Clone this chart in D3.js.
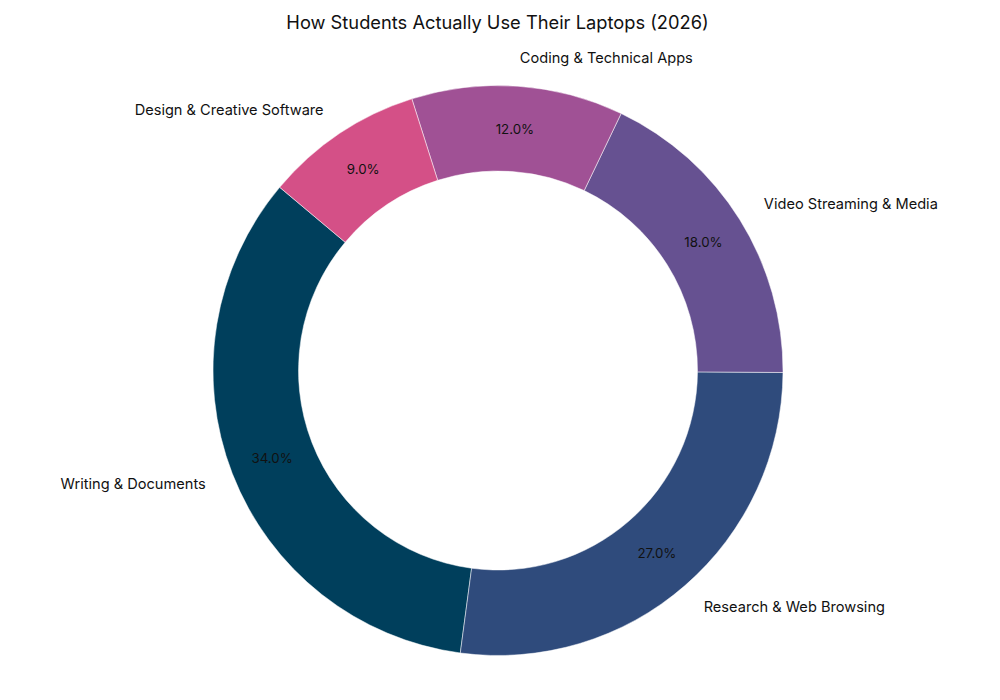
<!DOCTYPE html>
<html>
<head>
<meta charset="utf-8">
<script src="https://cdn.jsdelivr.net/npm/d3@7"></script>
<style>
  body { margin: 0; background: #fff; }
  text { font-family: Inter, "Open Sans", sans-serif; }
</style>
</head>
<body>
<div id="chart"></div>
<script>
// chart data
var categories = ["Writing & Documents", "Research & Web Browsing", "Video Streaming & Media",
                  "Coding & Technical Apps", "Design & Creative Software"];
var shares = [34, 27, 18, 12, 9];
var colours = ["#003f5c", "#2f4b7c", "#665191", "#a05195", "#d45087"];

var width = 1000, height = 700;
var cx = 498, cy = 370.5, R = 285;

var svg = d3.select("#chart")
    .append("svg")
    .attr("width", width)
    .attr("height", height);

svg.append("text")
    .attr("x", 497.5)
    .attr("y", 29)
    .attr("text-anchor", "middle")
    .style("font-size", "18.3px")
    .style("fill", "#111")
    .text("How Students Actually Use Their Laptops (2026)");

var g = svg.append("g")
    .attr("transform", "translate(" + cx + "," + cy + ")");

// start at 140deg (counter-clockwise from east), going counter-clockwise
var start = (90 - 140) * Math.PI / 180;
var pie = d3.pie()
    .sort(null)
    .startAngle(start)
    .endAngle(start - 2 * Math.PI)
    .value(function(d) { return d; });

var arcs = pie(shares);

var arc = d3.arc()
    .innerRadius(R * 0.7)
    .outerRadius(R);

g.selectAll("path")
    .data(arcs)
    .enter().append("path")
    .attr("d", arc)
    .style("fill", function(d, i) { return colours[i]; })
    .style("stroke", "#fff")
    .style("stroke-width", 0.5);

var total = d3.sum(shares);
function mid(d) { return (d.startAngle + d.endAngle) / 2; }

// percentages
g.selectAll("text.pct")
    .data(arcs)
    .enter().append("text")
    .attr("class", "pct")
    .attr("x", function(d) { return 0.85 * R * Math.sin(mid(d)); })
    .attr("y", function(d) { return -0.85 * R * Math.cos(mid(d)); })
    .attr("text-anchor", "middle")
    .attr("dominant-baseline", "central")
    .style("font-size", "13.3px")
    .style("fill", "#111")
    .text(function(d) { return (d.value / total * 100).toFixed(1) + "%"; });

// category labels
g.selectAll("text.lbl")
    .data(arcs)
    .enter().append("text")
    .attr("class", "lbl")
    .attr("x", function(d) { return 1.1 * R * Math.sin(mid(d)); })
    .attr("y", function(d) { return -1.1 * R * Math.cos(mid(d)); })
    .attr("text-anchor", function(d) { return Math.sin(mid(d)) > 0 ? "start" : "end"; })
    .attr("dominant-baseline", "central")
    .style("font-size", "14.6px")
    .style("fill", "#111")
    .text(function(d, i) { return categories[i]; });
</script>
</body>
</html>
